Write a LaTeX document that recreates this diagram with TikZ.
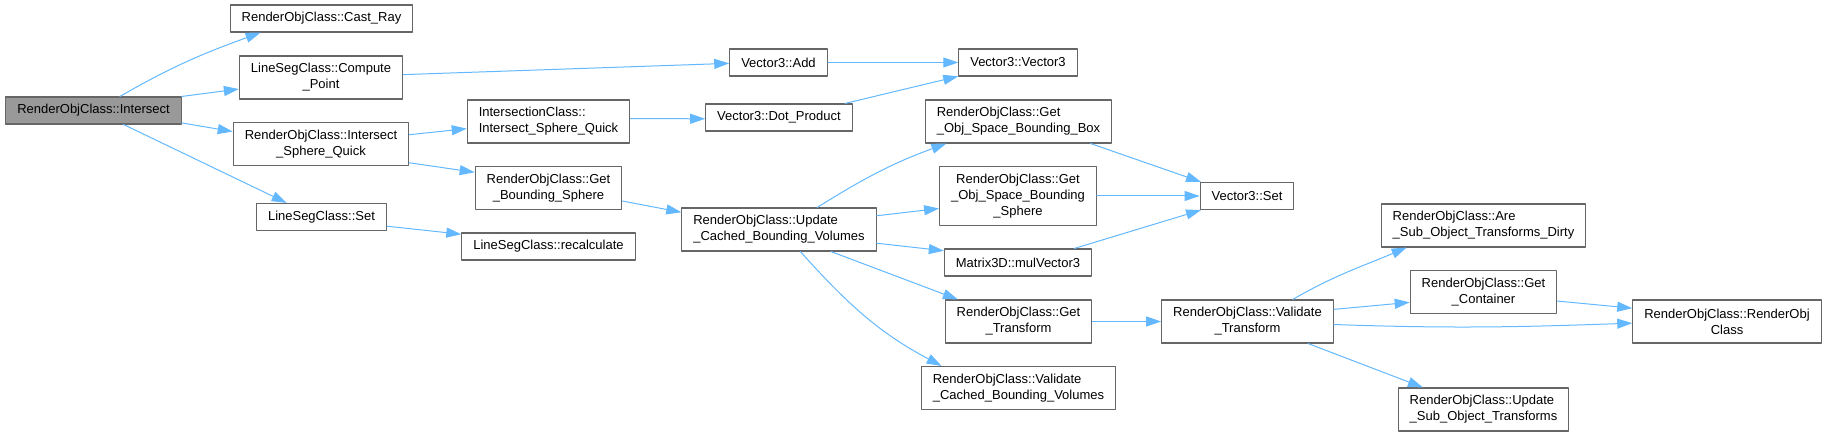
\documentclass[tikz,border=0pt]{standalone}
\usepackage{fontspec}
\setmainfont{Liberation Sans}
\usetikzlibrary{arrows.meta}
\definecolor{callblue}{HTML}{63B8FF}
\definecolor{boxline}{HTML}{666666}
\definecolor{rootfill}{HTML}{999999}
\newcommand\callfont{\fontsize{13}{16}\selectfont}
\tikzset{
  every picture/.style={line join=round, line cap=round},
  fn/.style={draw=boxline, fill=white, line width=1.1pt, inner xsep=11.5pt, inner ysep=2pt, minimum height=27pt, font=\callfont},
  two/.style={minimum height=43pt},
  three/.style={minimum height=59pt},
  root/.style={fn, fill=rootfill},
  call/.style={draw=callblue, line width=1pt, -{Triangle[length=15pt,width=10pt]}},
}

\begin{document}
\begin{tikzpicture}[x=1pt,y=1pt]
\useasboundingbox (0,0) rectangle (1826,436);
\node[root] (intersect) at (93.5,325.5) {RenderObjClass::Intersect};
\node[fn] (castray) at (321.5,417.5) {RenderObjClass::Cast\_Ray};
\node[fn,two,align=center] (computept) at (321,358.5) {LineSegClass::Compute\\\_Point};
\node[fn,two,align=center] (isq) at (321,292) {RenderObjClass::Intersect\\\_Sphere\_Quick};
\node[fn] (lsset) at (321.5,219) {LineSegClass::Set};
\node[fn,two,align=left] (icisq) at (548.5,314.5) {IntersectionClass::\\Intersect\_Sphere\_Quick};
\node[fn,two,align=center] (getbsph) at (548.5,248) {RenderObjClass::Get\\\_Bounding\_Sphere};
\node[fn] (recalc) at (548.5,189.5) {LineSegClass::recalculate};
\node[fn] (v3add) at (778.5,373.5) {Vector3::Add};
\node[fn] (dotprod) at (779,318.5) {Vector3::Dot\_Product};
\node[fn,two,align=left] (updcbv) at (779,206.5) {RenderObjClass::Update\\\_Cached\_Bounding\_Volumes};
\node[fn] (v3ctor) at (1018,373.5) {Vector3::Vector3};
\node[fn,two,align=left] (getosbb) at (1018.5,314.5) {RenderObjClass::Get\\\_Obj\_Space\_Bounding\_Box};
\node[fn,three,align=center] (getossph) at (1018,240) {RenderObjClass::Get\\\_Obj\_Space\_Bounding\\\_Sphere};
\node[fn] (mulv3) at (1018,173.5) {Matrix3D::mulVector3};
\node[fn,two,align=center] (gettr) at (1018.5,114.5) {RenderObjClass::Get\\\_Transform};
\node[fn,two,align=left] (valcbv) at (1018.5,48) {RenderObjClass::Validate\\\_Cached\_Bounding\_Volumes};
\node[fn] (v3set) at (1247,240) {Vector3::Set};
\node[fn,two,align=center] (valtr) at (1247.5,114.5) {RenderObjClass::Validate\\\_Transform};
\node[fn,two,align=left] (aresub) at (1483.5,210.5) {RenderObjClass::Are\\\_Sub\_Object\_Transforms\_Dirty};
\node[fn,two,align=center] (getcont) at (1483.5,144) {RenderObjClass::Get\\\_Container};
\node[fn,two,align=left] (updsub) at (1483.5,26.5) {RenderObjClass::Update\\\_Sub\_Object\_Transforms};
\node[fn,two,align=center] (rocls) at (1727,114.5) {RenderObjClass::RenderObj\\Class};
% calls
\draw[call] (intersect.28) to[out=30,in=200] (castray.193);
\draw[call] (intersect.north east) -- (computept.188);
\draw[call] (intersect.352) -- (isq.172);
\draw[call] (intersect.335) -- (lsset.158);
\draw[call] (computept.2) -- (v3add.181);
\draw[call] (isq.6) -- (icisq.185);
\draw[call] (isq.348) -- (getbsph.168);
\draw[call] (lsset.352) -- (recalc.172);
\draw[call] (icisq.2) -- (dotprod.181);
\draw[call] (getbsph.350) -- (updcbv.170);
\draw[call] (v3add) -- (v3ctor);
\draw[call] (dotprod.12) -- (v3ctor.193);
\draw[call] (updcbv.30) to[out=32,in=200] (getosbb.197);
\draw[call] (updcbv.8) -- (getossph.189);
\draw[call] (updcbv.352) -- (mulv3.171);
\draw[call] (updcbv.337) -- (gettr.160);
\draw[call] (updcbv.314) to[out=-48,in=152] (valcbv.164);
\draw[call] (getosbb.343) -- (v3set.163);
\draw[call] (getossph) -- (v3set);
\draw[call] (mulv3.14) -- (v3set.197);
\draw[call] (gettr) -- (valtr);
\draw[call] (valtr.26) to[out=30,in=203] (aresub.196);
\draw[call] (valtr.8) -- (getcont.188);
\draw[call] (valtr.358) to[out=-2,in=182] (rocls.181);
\draw[call] (valtr.340) -- (updsub.160);
\draw[call] (getcont.353) -- (rocls.172);
\end{tikzpicture}
\end{document}
